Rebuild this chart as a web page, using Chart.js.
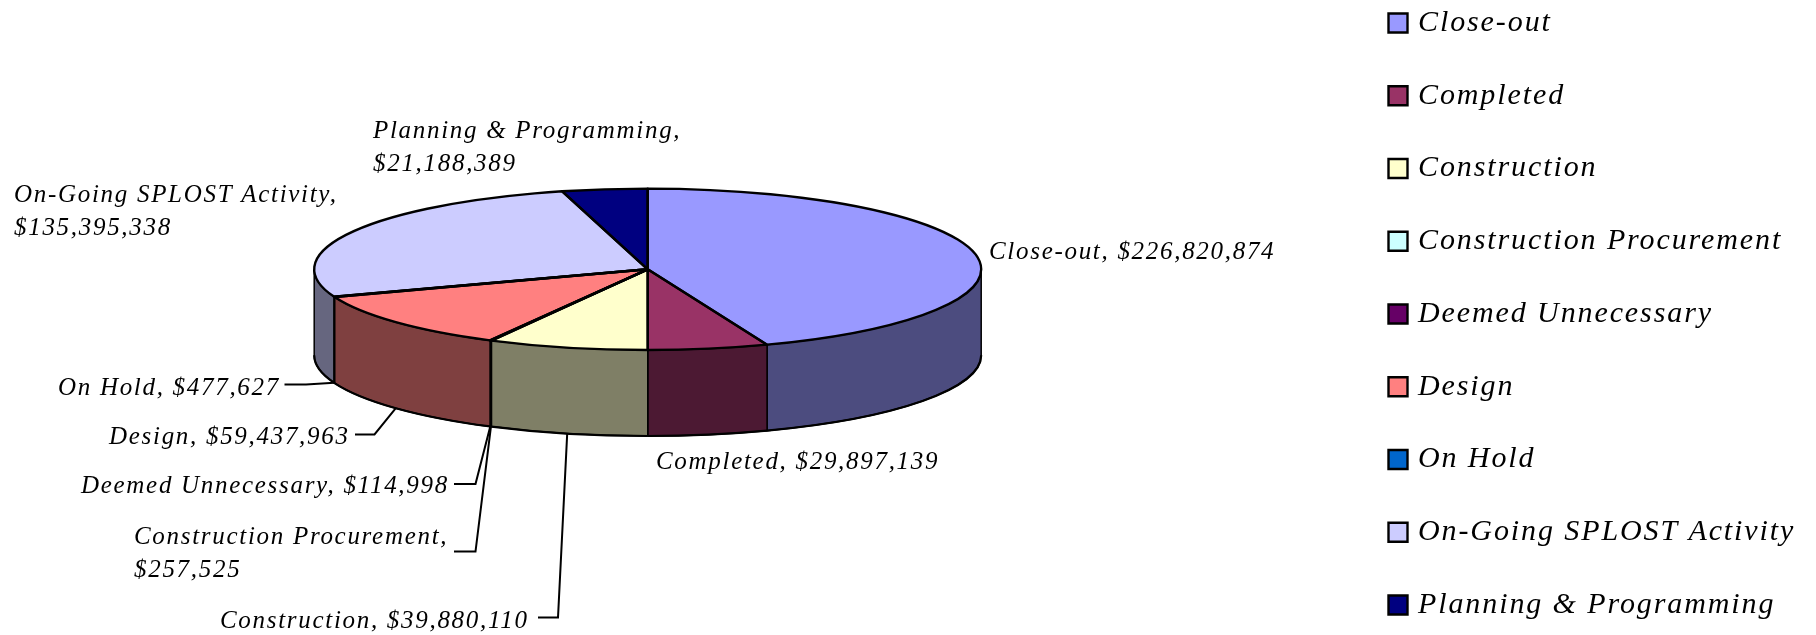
<!DOCTYPE html>
<html>
<head>
<meta charset="utf-8">
<title>Project Status</title>
<script src="https://cdn.jsdelivr.net/npm/chart.js@4/dist/chart.umd.min.js"></script>
<style>
  html, body { margin: 0; padding: 0; background: #fff; }
  canvas { display: block; }
</style>
</head>
<body>
<canvas id="statusPie" width="1816" height="635"></canvas>
<script>
const categories = ['Close-out', 'Completed', 'Construction', 'Construction Procurement', 'Deemed Unnecessary', 'Design', 'On Hold', 'On-Going SPLOST Activity', 'Planning & Programming'];
const amounts = [226820874, 29897139, 39880110, 257525, 114998, 59437963, 477627, 135395338, 21188389];
const sliceColors = ['#9999FF', '#993366', '#FFFFCC', '#CCFFFF', '#660066', '#FF8080', '#0066CC', '#CCCCFF', '#000080'];

const fontFamily = '"Liberation Serif", "Times New Roman", serif';
const squash = 0.242;     // vertical flattening of the pie disc
const wallDepth = 86;     // height of the side wall
const legendSpacing = '1.9px';
const labelSpacing = '1.7px';

// where each data label sits; elbow is the start of its leader line, if it has one
const labelPlacement = [
  { x: 989, y: 259 },
  { x: 656, y: 469 },
  { x: 220, y: 628, elbow: [[538, 617.5], [558, 617.5]] },
  { x: 134, y: 544, wrap: true, elbow: [[454, 551.5], [475.5, 551.5]] },
  { x: 81, y: 493, elbow: [[454, 484], [475.5, 484]] },
  { x: 109, y: 444, elbow: [[355, 434.5], [374.5, 434.5]] },
  { x: 58, y: 395, elbow: [[284.5, 384.5], [306, 384.5]] },
  { x: 14, y: 202, wrap: true },
  { x: 373, y: 138, wrap: true },
];

function wallColor(hex) {
  const n = parseInt(hex.slice(1), 16);
  const half = (v) => Math.floor(v / 2);
  return `rgb(${half(n >> 16)},${half((n >> 8) & 255)},${half(n & 255)})`;
}

function flatten(ctx, arc) {
  ctx.translate(arc.x, arc.y);
  ctx.scale(1, squash);
  ctx.translate(-arc.x, -arc.y);
}

// side wall and rim below the visible front half of the disc
function drawWalls(chart) {
  const ctx = chart.ctx;
  const arcs = chart.getDatasetMeta(0).data;
  ctx.save();
  ctx.lineJoin = 'round';
  ctx.strokeStyle = '#000';
  arcs.forEach((arc, i) => {
    const a0 = Math.max(arc.startAngle, 0);
    const a1 = Math.min(arc.endAngle, Math.PI);
    if (a1 <= a0) return;
    const ry = arc.outerRadius * squash;
    ctx.beginPath();
    ctx.ellipse(arc.x, arc.y, arc.outerRadius, ry, 0, a0, a1);
    ctx.ellipse(arc.x, arc.y + wallDepth, arc.outerRadius, ry, 0, a1, a0, true);
    ctx.closePath();
    ctx.fillStyle = wallColor(sliceColors[i]);
    ctx.fill();
    ctx.lineWidth = 1.5;
    ctx.stroke();
    ctx.beginPath();
    ctx.ellipse(arc.x, arc.y + wallDepth, arc.outerRadius, ry, 0, a0, a1);
    ctx.lineWidth = 2.2;
    ctx.stroke();
  });
  ctx.restore();
}

function drawOutlines(chart) {
  const ctx = chart.ctx;
  const arcs = chart.getDatasetMeta(0).data;
  ctx.save();
  ctx.lineWidth = 2.4;
  ctx.lineJoin = 'round';
  ctx.strokeStyle = '#000';
  arcs.forEach((arc) => {
    const ry = arc.outerRadius * squash;
    ctx.beginPath();
    ctx.moveTo(arc.x, arc.y);
    ctx.ellipse(arc.x, arc.y, arc.outerRadius, ry, 0, arc.startAngle, arc.endAngle);
    ctx.closePath();
    ctx.stroke();
  });
  ctx.restore();
}

function drawLabels(chart) {
  const ctx = chart.ctx;
  const arcs = chart.getDatasetMeta(0).data;
  ctx.save();
  ctx.font = `italic 25px ${fontFamily}`;
  ctx.letterSpacing = labelSpacing;
  ctx.fillStyle = '#000';
  ctx.strokeStyle = '#000';
  ctx.lineWidth = 2;
  ctx.textBaseline = 'alphabetic';
  categories.forEach((name, i) => {
    const place = labelPlacement[i];
    const money = '$' + amounts[i].toLocaleString('en-US');
    if (place.wrap) {
      ctx.fillText(name + ',', place.x, place.y);
      ctx.fillText(money, place.x, place.y + 33);
    } else {
      ctx.fillText(`${name}, ${money}`, place.x, place.y);
    }
    if (place.elbow) {
      // leader runs from the label to the slice's mid angle on the lower rim
      const arc = arcs[i];
      const mid = (arc.startAngle + arc.endAngle) / 2;
      const tipX = arc.x + arc.outerRadius * Math.cos(mid);
      const tipY = arc.y + arc.outerRadius * squash * Math.sin(mid) + wallDepth;
      ctx.beginPath();
      ctx.moveTo(place.elbow[0][0], place.elbow[0][1]);
      ctx.lineTo(place.elbow[1][0], place.elbow[1][1]);
      ctx.lineTo(tipX, tipY);
      ctx.stroke();
    }
  });
  ctx.restore();
}

const pie3d = {
  id: 'pie3d',
  afterLayout(chart) {
    // legend column on the far right, rows spread over the full height
    const legend = chart.legend;
    const pad = legend.options.labels.padding;
    legend.left = 1393 - pad;
    legend.right = 1816;
    legend.top = 8 - pad;
    legend.bottom = 2000;
  },
  beforeDraw(chart) {
    chart.ctx.letterSpacing = legendSpacing;
  },
  beforeDatasetsDraw(chart) {
    const arcs = chart.getDatasetMeta(0).data;
    drawWalls(chart);
    chart.ctx.save();
    flatten(chart.ctx, arcs[0]);
  },
  afterDatasetsDraw(chart) {
    chart.ctx.restore();
    drawOutlines(chart);
  },
  afterDraw(chart) {
    drawLabels(chart);
  },
};

new Chart(document.getElementById('statusPie'), {
  type: 'pie',
  data: {
    labels: categories,
    datasets: [{
      data: amounts,
      backgroundColor: sliceColors,
      borderWidth: 0,
      radius: 333.5,
      clip: false,
    }],
  },
  options: {
    responsive: false,
    animation: false,
    events: [],
    layout: { padding: { left: 314.2, right: 834.8, top: 0, bottom: 96.4 } },
    plugins: {
      tooltip: { enabled: false },
      legend: {
        position: 'chartArea',
        align: 'start',
        labels: {
          usePointStyle: true,
          pointStyle: 'rect',
          boxWidth: 10,
          boxHeight: 19,
          padding: 42.75,
          color: '#000',
          font: { family: fontFamily, size: 30, style: 'italic' },
          generateLabels(chart) {
            return Chart.overrides.pie.plugins.legend.labels.generateLabels(chart)
              .map((item) => ({ ...item, strokeStyle: '#000', lineWidth: 2.4 }));
          },
        },
      },
    },
  },
  plugins: [pie3d],
});
</script>
</body>
</html>
